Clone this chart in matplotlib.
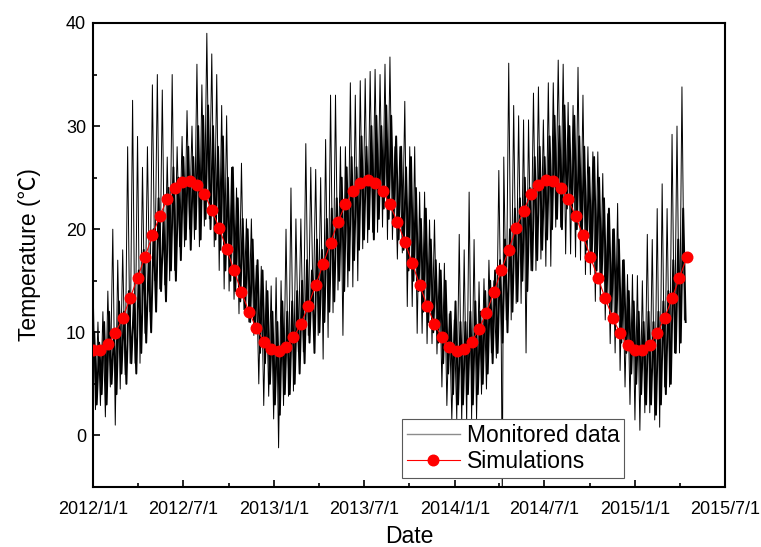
import datetime as dt

import matplotlib
matplotlib.use("Agg")
import matplotlib.dates as mdates
import matplotlib.pyplot as plt
import numpy as np
from matplotlib.ticker import FuncFormatter, MultipleLocator

# ---------------------------------------------------------------------------
# Data
# ---------------------------------------------------------------------------
START = np.datetime64("2012-01-01")
MONITOR_STEP = 10

# monitored data: outer spike envelope every 10 days (low sits 5 days later)
monitored_high = [
    15, 11, 12, 14, 20, 17, 18, 28, 32.5, 29,
    26, 28, 34, 35, 33.5, 27, 35, 28, 29, 31.5,
    30, 36, 34, 39, 37, 35, 32, 31, 26, 24,
    26.4, 21, 21, 16.5, 16.4, 15, 14.5, 15.3, 15, 20,
    24, 21, 21, 28.3, 26, 25.8, 25, 28.7, 33, 33,
    28, 28, 34.2, 33, 34.4, 34.6, 35.3, 35.5, 35, 36,
    36.7, 28, 28, 32.4, 28, 28, 23.6, 23.6, 20.9, 20.9,
    16.7, 16.7, 11.8, 11.2, 19.5, 18, 23.6, 19, 14.9, 15.2,
    17, 15, 25.7, 27, 36.1, 32, 31, 30.6, 30.6, 33.2,
    33.8, 30.6, 34.2, 34.2, 36.4, 36, 32.3, 32, 35.7, 33,
    28, 27.5, 27.5, 25.4, 21.5, 20, 22.5, 17, 15.6, 15.6,
    15.5, 15, 19.5, 19, 22, 24.4, 22, 29.2, 30, 33.8,
]
monitored_low = [
    2.5, 2.9, 1.8, 4.7, 1.0, 4.5, 5.9, 7.0, 7, 7,
    9.9, 12, 15, 14.2, 14.6, 15, 16, 18.3, 18.3, 20,
    19, 18.3, 20.3, 21, 18.3, 16, 14.2, 14, 13.2, 11.8,
    12.2, 11, 9.7, 5, 2.9, 3.8, 1.6, -1.2, 2.9, 3.8,
    4.3, 8.1, 8.1, 9.7, 12, 9.7, 7.4, 9.5, 11.9, 14.1,
    9.7, 14.4, 14.4, 15, 18.1, 18.7, 19.7, 19.7, 20.2, 19,
    19, 17.1, 17.7, 12.5, 12.5, 9.9, 9.9, 8.9, 8.9, 7.9,
    4.7, 2.9, 1.5, 1.6, 1.2, 1.2, 1.6, 1.6, 4.0, 4.5,
    8, 7.5, 8.5, 11.2, 11.2, 12.8, 12.8, 8, 16, 16,
    17.1, 16.4, 16.4, 20.2, 20.2, 17.6, 17.6, 17.3, 17, 15.6,
    15.6, 13, 13, 11.2, 8.9, 8, 6.3, 4.7, 3, 1.5,
    0.5, 2.2, 2.2, 1.5, 0.8, 4.7, 4.7, 8, 8, 11.2,
]
# dense core of the trace, same 10-day grid shifted by 2.5 days
inner_high = [
    10, 9, 11, 12, 10, 13, 12, 14, 13, 16, 18, 17,
    20, 23, 21, 24, 26, 25, 27, 28, 27, 30, 31, 32,
    30, 28, 29, 25, 26, 23, 21, 20, 19, 17, 16, 14,
    12, 11, 13, 12, 13, 14, 15, 17, 16, 19, 18, 21,
    22, 23, 25, 26, 27, 26, 29, 28, 30, 31, 30, 32,
    31, 29, 28, 26, 27, 24, 21, 22, 19, 17, 16, 15,
    12, 13, 11, 11, 12, 13, 12, 14, 15, 16, 17, 19,
    20, 22, 23, 25, 24, 27, 28, 27, 29, 31, 30, 32,
    30, 31, 29, 28, 26, 27, 25, 23, 22, 20, 19, 17,
    14, 13, 12, 11, 12, 11, 12, 13, 14, 17, 19, 22,
]
inner_low = [
    3, 4, 3, 5, 4, 6, 5, 7, 6, 8, 9, 10,
    12, 14, 13, 16, 15, 17, 19, 18, 20, 19, 21, 20,
    19, 18, 16, 15, 14, 13, 12, 11, 10, 8, 7, 5,
    3, 2, 4, 4, 5, 6, 7, 9, 8, 10, 11, 12,
    13, 15, 14, 16, 17, 18, 19, 20, 19, 21, 22, 21,
    21, 19, 18, 16, 15, 14, 12, 11, 10, 9, 7, 6,
    4, 3, 3, 4, 3, 4, 5, 6, 7, 8, 9, 10,
    12, 13, 15, 14, 16, 17, 18, 19, 20, 21, 20, 22,
    21, 20, 19, 18, 17, 16, 15, 13, 12, 11, 9, 8,
    6, 5, 4, 3, 3, 2, 3, 4, 5, 8, 9, 11,
]
# single logger drop-out (hidden behind the legend)
dropout_day = 827
dropout_value = -6.0

# simulations every 15 days
SIM_STEP = 15
sim_values = [
    8.25, 8.25, 8.9, 9.9, 11.4, 13.3, 15.3, 17.3, 19.4, 21.3, 22.9,
    24.0, 24.6, 24.7, 24.3, 23.4, 21.9, 20.1, 18.1, 16.0, 13.9,
    12.0, 10.4, 9.1, 8.4, 8.2, 8.6, 9.5, 10.8, 12.6, 14.6,
    16.6, 18.7, 20.7, 22.4, 23.7, 24.5, 24.8, 24.5, 23.7, 22.4,
    20.7, 18.8, 16.7, 14.6, 12.6, 10.8, 9.5, 8.6, 8.2, 8.4,
    9.1, 10.3, 11.9, 13.9, 16.0, 18.0, 20.1, 21.8, 23.4, 24.3,
    24.8, 24.7, 24.0, 22.9, 21.3, 19.4, 17.3, 15.3, 13.3, 11.4,
    9.9, 8.8, 8.25, 8.25, 8.8, 9.9, 11.4, 13.3, 15.3, 17.3,
]


# ---------------------------------------------------------------------------
# Build series
# ---------------------------------------------------------------------------
def day_dates(days):
    return START + (np.asarray(days, dtype=float) * 24).astype("timedelta64[h]")


def zigzag(highs, lows, offset):
    """Interleave highs/lows on the 10-day grid: high at offset, low 5 days later."""
    k = len(highs)
    days = np.empty(2 * k)
    days[0::2] = np.arange(k) * MONITOR_STEP + offset
    days[1::2] = np.arange(k) * MONITOR_STEP + offset + MONITOR_STEP / 2
    vals = np.empty(2 * k)
    vals[0::2] = highs
    vals[1::2] = lows
    return days, vals


mon_days, mon_vals = zigzag(monitored_high, monitored_low, 0.0)
pos = np.searchsorted(mon_days, dropout_day)
mon_days = np.insert(mon_days, pos, dropout_day)
mon_vals = np.insert(mon_vals, pos, dropout_value)

core_days, core_vals = zigzag(inner_high, inner_low, 2.5)
sim_days = np.arange(len(sim_values)) * SIM_STEP

# ---------------------------------------------------------------------------
# Figure
# ---------------------------------------------------------------------------
plt.rcParams["font.family"] = ["Liberation Sans", "Noto Sans CJK SC", "DejaVu Sans"]

fig = plt.figure(figsize=(7.61, 5.47), dpi=100)
ax = fig.add_axes([0.1222, 0.1097, 0.8305, 0.8483])

ax.plot(day_dates(mon_days), mon_vals, color="black", lw=0.7, zorder=2,
        label="Monitored data")
ax.plot(day_dates(core_days), core_vals, color="black", lw=1.4, zorder=2)
ax.plot(day_dates(sim_days), sim_values, color="#ff0000", lw=0.8, marker="o",
        ms=7.6, zorder=3, label="Simulations")

ax.set_xlim(dt.date(2012, 1, 1), dt.date(2015, 7, 1))
ax.set_ylim(-5, 40)

ax.xaxis.set_major_locator(mdates.MonthLocator(bymonth=[1, 7]))
ax.xaxis.set_minor_locator(mdates.MonthLocator(bymonth=[4, 10]))
ax.xaxis.set_major_formatter(FuncFormatter(
    lambda v, _: (lambda d: f"{d.year}/{d.month}/{d.day}")(mdates.num2date(v))))
ax.yaxis.set_major_locator(MultipleLocator(10))
ax.yaxis.set_minor_locator(MultipleLocator(5))

ax.tick_params(which="both", direction="in", top=False, right=False,
               labelsize=13, width=1.2)
ax.tick_params(which="major", length=5)
ax.tick_params(which="minor", length=3)
ax.tick_params(axis="x", pad=10)
ax.tick_params(axis="y", pad=5)
for sp in ax.spines.values():
    sp.set_linewidth(1.5)

ax.set_xlabel("Date", fontsize=16.5, labelpad=5)
ax.set_ylabel("Temperature (℃)", fontsize=16.5, labelpad=18)

leg = ax.legend(loc="lower right", bbox_to_anchor=(0.84, 0.02), fontsize=16.5,
                frameon=True, fancybox=False, framealpha=1, edgecolor="0.35",
                handlelength=2.3, handletextpad=0.3, labelspacing=0.15,
                borderpad=0.2, borderaxespad=0)
leg.get_frame().set_linewidth(0.8)
leg.get_lines()[0].set_color("0.55")
leg.get_lines()[0].set_linewidth(1.0)

fig.savefig("out.png", dpi=100)
